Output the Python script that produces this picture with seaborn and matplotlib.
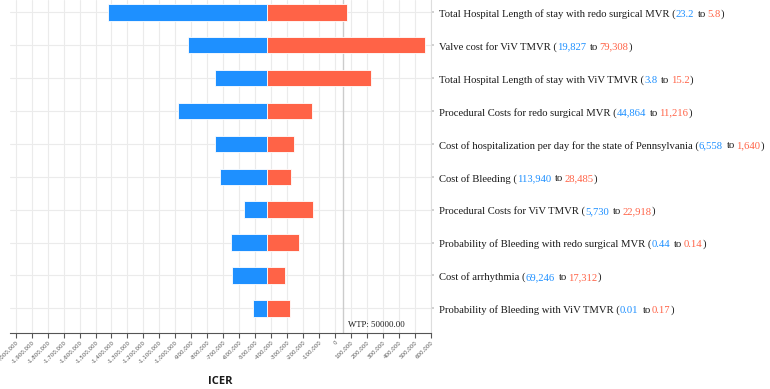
import matplotlib
matplotlib.use("Agg")
import matplotlib.pyplot as plt
import matplotlib.ticker as mticker
from matplotlib import font_manager
from matplotlib.font_manager import FontProperties
import seaborn as sns
import pandas as pd
import numpy as np

# ---------------- data ----------------
params = [
    "Total Hospital Length of stay with redo surgical MVR",
    "Valve cost for ViV TMVR",
    "Total Hospital Length of stay with ViV TMVR",
    "Procedural Costs for redo surgical MVR",
    "Cost of hospitalization per day for the state of Pennsylvania",
    "Cost of Bleeding",
    "Procedural Costs for ViV TMVR",
    "Probability of Bleeding with redo surgical MVR",
    "Cost of arrhythmia",
    "Probability of Bleeding with ViV TMVR",
]
low_inputs = ["23.2", "19,827", "3.8", "44,864", "6,558", "113,940", "5,730", "0.44", "69,246", "0.01"]
high_inputs = ["5.8", "79,308", "15.2", "11,216", "1,640", "28,485", "22,918", "0.14", "17,312", "0.17"]
icer_low = [-1421000, -919000, -752000, -981000, -752000, -721000, -567000, -652000, -642000, -511000]
icer_high = [75000, 564000, 225000, -144000, -259000, -273000, -140000, -225000, -315000, -281000]
base_icer = -425000
wtp = 50000
tick_values = list(range(-2000000, 600001, 100000))

BLUE = "#1E90FF"
RED = "#FF6347"
DARK = "#1a1a1a"

df = pd.DataFrame({
    "param": params,
    "low_delta": np.array(icer_low) - base_icer,
    "high_delta": np.array(icer_high) - base_icer,
})

sns.set_theme(style="white")
plt.rcParams["font.family"] = ["DejaVu Sans"]

# tick label font: condensed if available
try:
    font_manager.findfont("Liberation Sans Narrow", fallback_to_default=False)
    TICK_FAMILY, TICK_SIZE = "Liberation Sans Narrow", 5.2
except Exception:
    TICK_FAMILY, TICK_SIZE = "DejaVu Sans", 4.0

fig = plt.figure(figsize=(7.7, 3.89), dpi=100)
ax = fig.add_axes([10 / 770, 56 / 389, 421 / 770, 333 / 389])

sns.barplot(data=df, x="low_delta", y="param", order=params, color=BLUE,
            orient="y", width=0.5, left=base_icer, saturation=1,
            edgecolor="white", linewidth=0.6, ax=ax, zorder=3)
sns.barplot(data=df, x="high_delta", y="param", order=params, color=RED,
            orient="y", width=0.5, left=base_icer, saturation=1,
            edgecolor="white", linewidth=0.6, ax=ax, zorder=3)

ax.set_xlim(-2036000, 602000)
ax.set_ylim(9.75, -0.374)

ax.set_xticks(tick_values)
ax.xaxis.set_major_formatter(mticker.FuncFormatter(lambda v, p: f"{int(round(v)):,}"))
ax.tick_params(axis="x", which="major", direction="out", length=3.5, width=0.8,
               color="#555555", labelsize=TICK_SIZE, labelcolor="#555555", pad=1.5,
               bottom=True)
for lab in ax.get_xticklabels():
    lab.set_rotation(45)
    lab.set_ha("right")
    lab.set_rotation_mode("anchor")
    lab.set_family(TICK_FAMILY)

ax.yaxis.tick_right()
ax.set_yticks(range(len(params)))
ax.set_yticklabels([""] * len(params))
ax.tick_params(axis="y", which="major", direction="out", length=2, color="#cccccc", right=True, left=False)

ax.grid(True, color="#ebebeb", linewidth=0.8, zorder=0)
ax.set_axisbelow(True)
for s in ["top", "left"]:
    ax.spines[s].set_visible(False)
ax.spines["bottom"].set_color("#555555")
ax.spines["bottom"].set_linewidth(0.8)
ax.spines["right"].set_color("#dddddd")
ax.spines["right"].set_linewidth(0.8)
ax.set_xlabel("")
ax.set_ylabel("")

# WTP line
ax.axvline(wtp, color="#cccccc", linewidth=1, zorder=2)
ax.annotate("WTP: 50000.00", xy=(wtp, 9.5), xytext=(3.5, 0), textcoords="offset points",
            fontsize=6.3, family="Liberation Serif", color=DARK, ha="left", va="center")

# Row labels with colored input values (positions measured from prefix widths)
SERIF = "Liberation Serif"
FS = 7.7
prop = FontProperties(family=SERIF, size=FS)
renderer = fig.canvas.get_renderer()
px2pt = 72.0 / fig.dpi


def ink_width(s):
    if not s:
        return 0.0
    w, h, d = renderer.get_text_width_height_descent(s, prop, ismath=False)
    return w


x0 = (439 - 10) / 421
for i, name in enumerate(params):
    pieces = [(name + " (", DARK, 0.0), (low_inputs[i], BLUE, 0.0), (" to ", DARK, 1.1),
              (high_inputs[i], RED, 0.0), (")", DARK, 0.0)]
    prefix = ""
    for txt, col, nudge in pieces:
        core = txt.lstrip(" ")
        pre = prefix + txt[:len(txt) - len(core)]
        if pre:
            xoff = ink_width(pre + core[0]) - ink_width(core[0])
        else:
            xoff = 0.0
        ax.annotate(core.rstrip(" "), xy=(x0, i), xycoords=ax.get_yaxis_transform(),
                    xytext=(xoff * px2pt + nudge, -3.3), textcoords="offset points",
                    fontproperties=prop, color=col, ha="left", va="baseline")
        prefix += txt

fig.text(220 / 770, 1 - 381 / 389, "ICER", fontsize=8, fontweight="bold",
         ha="center", va="center", color=DARK, family="Open Sans")

fig.savefig("out.png", dpi=100)
